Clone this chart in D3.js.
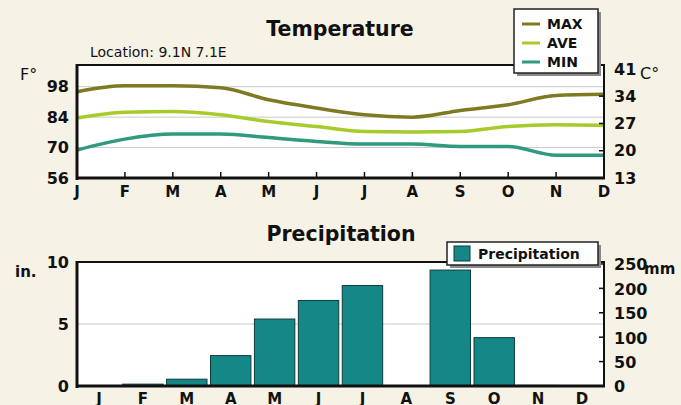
<!DOCTYPE html>
<html>
<head>
<meta charset="utf-8">
<script src="https://cdn.jsdelivr.net/npm/d3@7"></script>
<style>
  html, body { margin: 0; padding: 0; background: #f6f3e6; }
  svg { display: block; }
  text { font-family: "DejaVu Sans", sans-serif; fill: #111; }
</style>
</head>
<body>
<svg id="chart" width="681" height="405"></svg>
<script>
const months = ["J", "F", "M", "A", "M", "J", "J", "A", "S", "O", "N", "D"];
const tempMax = [95.7, 98.4, 98.4, 97.5, 92.0, 88.2, 85.1, 84.0, 87.1, 89.7, 94.0, 94.5];
const tempAve = [83.6, 86.2, 86.6, 85.1, 82.0, 79.7, 77.4, 77.2, 77.4, 79.7, 80.5, 80.2];
const tempMin = [68.9, 73.9, 76.2, 76.2, 74.6, 72.8, 71.6, 71.6, 70.5, 70.5, 66.5, 66.5];
const precipIn = [0, 0.15, 0.55, 2.45, 5.4, 6.9, 8.1, 0, 9.35, 3.9, 0.05, 0];
const fTicks = [56, 70, 84, 98];
const cTicks = [13, 20, 27, 34, 41];
const inTicks = [0, 5, 10];
const mmTicks = [0, 50, 100, 150, 200, 250];

const svg = d3.select("#chart");
const left = 77, right = 604;

// page title, mostly above the visible area
svg.append("text")
    .attr("x", 22).attr("y", -6)
    .attr("font-size", 30).attr("font-weight", "bold")
    .style("fill", "#2a8fa0")
    .text("City, Nigeria");

// ---------- Temperature ----------
const tTop = 65, tBot = 178;
const x = d3.scalePoint().domain(d3.range(12)).range([left, right]);
const yF = d3.scaleLinear().domain([56, 108]).range([tBot, tTop]);
const yC = d3.scaleLinear().domain([13, 42]).range([tBot, tTop]);

svg.append("rect")
    .attr("x", left).attr("y", tTop)
    .attr("width", right - left).attr("height", tBot - tTop)
    .attr("fill", "#fff");

svg.append("g").selectAll("line")
    .data(fTicks.slice(1))
    .join("line")
    .attr("x1", left).attr("x2", right)
    .attr("y1", d => yF(d)).attr("y2", d => yF(d))
    .attr("stroke", "#c9c9c9").attr("stroke-width", 1);

const line = d3.line()
    .x((d, i) => x(i))
    .y(d => yF(d))
    .curve(d3.curveMonotoneX);

const series = [
    { name: "MAX", values: tempMax, color: "#7d7a22" },
    { name: "AVE", values: tempAve, color: "#a8cb2c" },
    { name: "MIN", values: tempMin, color: "#2f9a7e" }
];

svg.append("g").selectAll("path")
    .data(series)
    .join("path")
    .attr("d", d => line(d.values))
    .attr("fill", "none")
    .attr("stroke", d => d.color)
    .attr("stroke-width", 3.5);

// frame
svg.append("rect")
    .attr("x", left).attr("y", tTop)
    .attr("width", right - left).attr("height", tBot - tTop)
    .attr("fill", "none").attr("stroke", "#111").attr("stroke-width", 2);
svg.append("line").attr("x1", left).attr("x2", left).attr("y1", tTop - 1).attr("y2", tBot + 2)
    .attr("stroke", "#111").attr("stroke-width", 3);
svg.append("line").attr("x1", left - 1).attr("x2", right + 1).attr("y1", tBot).attr("y2", tBot)
    .attr("stroke", "#111").attr("stroke-width", 3);

// inward ticks
svg.append("g").selectAll("line")
    .data(d3.range(1, 11))
    .join("line")
    .attr("x1", d => x(d)).attr("x2", d => x(d))
    .attr("y1", tBot).attr("y2", tBot - 6)
    .attr("stroke", "#111").attr("stroke-width", 1.5);
svg.append("g").selectAll("line")
    .data(cTicks.slice(1, 4))
    .join("line")
    .attr("x1", right).attr("x2", right - 5)
    .attr("y1", d => yC(d)).attr("y2", d => yC(d))
    .attr("stroke", "#111").attr("stroke-width", 1.5);

svg.append("g").selectAll("text")
    .data(fTicks)
    .join("text")
    .attr("x", 69).attr("y", d => yF(d)).attr("dy", "0.36em")
    .attr("text-anchor", "end")
    .attr("font-size", 16).attr("font-weight", "bold")
    .text(d => d);

svg.append("g").selectAll("text")
    .data(cTicks)
    .join("text")
    .attr("x", 614).attr("y", d => yC(d)).attr("dy", "0.36em")
    .attr("font-size", 16).attr("font-weight", "bold")
    .text(d => d);

svg.append("g").selectAll("text")
    .data(months)
    .join("text")
    .attr("x", (d, i) => x(i)).attr("y", 197)
    .attr("text-anchor", "middle")
    .attr("font-size", 15).attr("font-weight", "bold")
    .text(d => d);

svg.append("text").attr("x", 340).attr("y", 36)
    .attr("text-anchor", "middle")
    .attr("font-size", 20.5).attr("font-weight", "bold")
    .text("Temperature");
svg.append("text").attr("x", 90).attr("y", 57)
    .attr("font-size", 14)
    .text("Location: 9.1N 7.1E");
svg.append("text").attr("x", 20).attr("y", 80)
    .attr("font-size", 16)
    .text("F°");
svg.append("text").attr("x", 640).attr("y", 79)
    .attr("font-size", 16)
    .text("C°");

// temperature legend
const lg = svg.append("g").attr("transform", "translate(514,9)");
lg.append("rect").attr("x", 3).attr("y", 3).attr("width", 84).attr("height", 64).attr("fill", "#8a8a8a");
lg.append("rect").attr("width", 84).attr("height", 64)
    .attr("fill", "#fff").attr("stroke", "#222").attr("stroke-width", 1.5);
series.forEach((s, i) => {
    const yy = 15 + i * 19;
    lg.append("line").attr("x1", 8).attr("x2", 26).attr("y1", yy).attr("y2", yy)
        .attr("stroke", s.color).attr("stroke-width", 3);
    lg.append("text").attr("x", 33).attr("y", yy).attr("dy", "0.36em")
        .attr("font-size", 14).attr("font-weight", "bold")
        .text(s.name);
});

// ---------- Precipitation ----------
const pTop = 262, pBot = 386;
const xb = d3.scaleBand().domain(d3.range(12)).range([left, right]).paddingInner(0.08).paddingOuter(0.04);
const yIn = d3.scaleLinear().domain([0, 10]).range([pBot, pTop]);
const yMm = d3.scaleLinear().domain([0, 254]).range([pBot, pTop]);

svg.append("rect")
    .attr("x", left).attr("y", pTop)
    .attr("width", right - left).attr("height", pBot - pTop)
    .attr("fill", "#fff");

svg.append("line")
    .attr("x1", left).attr("x2", right)
    .attr("y1", yIn(5)).attr("y2", yIn(5))
    .attr("stroke", "#c9c9c9").attr("stroke-width", 1);

svg.append("g").selectAll("rect")
    .data(precipIn)
    .join("rect")
    .attr("x", (d, i) => xb(i))
    .attr("y", d => yIn(d))
    .attr("width", xb.bandwidth())
    .attr("height", d => pBot - yIn(d))
    .attr("fill", "#158787")
    .attr("stroke", "#0c3b3b").attr("stroke-width", 1);

svg.append("rect")
    .attr("x", left).attr("y", pTop)
    .attr("width", right - left).attr("height", pBot - pTop)
    .attr("fill", "none").attr("stroke", "#111").attr("stroke-width", 2);
svg.append("line").attr("x1", left).attr("x2", left).attr("y1", pTop - 1).attr("y2", pBot + 2)
    .attr("stroke", "#111").attr("stroke-width", 3);
svg.append("line").attr("x1", left - 1).attr("x2", right + 1).attr("y1", pBot).attr("y2", pBot)
    .attr("stroke", "#111").attr("stroke-width", 3);

svg.append("g").selectAll("line")
    .data(mmTicks.slice(1))
    .join("line")
    .attr("x1", right).attr("x2", right - 5)
    .attr("y1", d => yMm(d)).attr("y2", d => yMm(d))
    .attr("stroke", "#111").attr("stroke-width", 1.5);

svg.append("g").selectAll("text")
    .data(inTicks)
    .join("text")
    .attr("x", 69).attr("y", d => yIn(d)).attr("dy", "0.36em")
    .attr("text-anchor", "end")
    .attr("font-size", 16).attr("font-weight", "bold")
    .text(d => d);

svg.append("g").selectAll("text")
    .data(mmTicks)
    .join("text")
    .attr("x", 614).attr("y", d => yMm(d)).attr("dy", "0.4em")
    .attr("font-size", 16).attr("font-weight", "bold")
    .text(d => d);

svg.append("g").selectAll("text")
    .data(months)
    .join("text")
    .attr("x", (d, i) => xb(i) + xb.bandwidth() / 2).attr("y", 404)
    .attr("text-anchor", "middle")
    .attr("font-size", 15).attr("font-weight", "bold")
    .text(d => d);

svg.append("text").attr("x", 341).attr("y", 241)
    .attr("text-anchor", "middle")
    .attr("font-size", 20.5).attr("font-weight", "bold")
    .text("Precipitation");
svg.append("text").attr("x", 15).attr("y", 277)
    .attr("font-size", 15).attr("font-weight", "bold")
    .text("in.");
svg.append("text").attr("x", 644).attr("y", 274)
    .attr("font-size", 15).attr("font-weight", "bold")
    .text("mm");

// precipitation legend
const pl = svg.append("g").attr("transform", "translate(447,242)");
pl.append("rect").attr("x", 3).attr("y", 3).attr("width", 151).attr("height", 23).attr("fill", "#8a8a8a");
pl.append("rect").attr("width", 151).attr("height", 23)
    .attr("fill", "#fff").attr("stroke", "#222").attr("stroke-width", 1.5);
pl.append("rect").attr("x", 7).attr("y", 4).attr("width", 16).attr("height", 15)
    .attr("fill", "#158787").attr("stroke", "#0c3b3b").attr("stroke-width", 1);
pl.append("text").attr("x", 31).attr("y", 12).attr("dy", "0.36em")
    .attr("font-size", 14).attr("font-weight", "bold")
    .text("Precipitation");
</script>
</body>
</html>
